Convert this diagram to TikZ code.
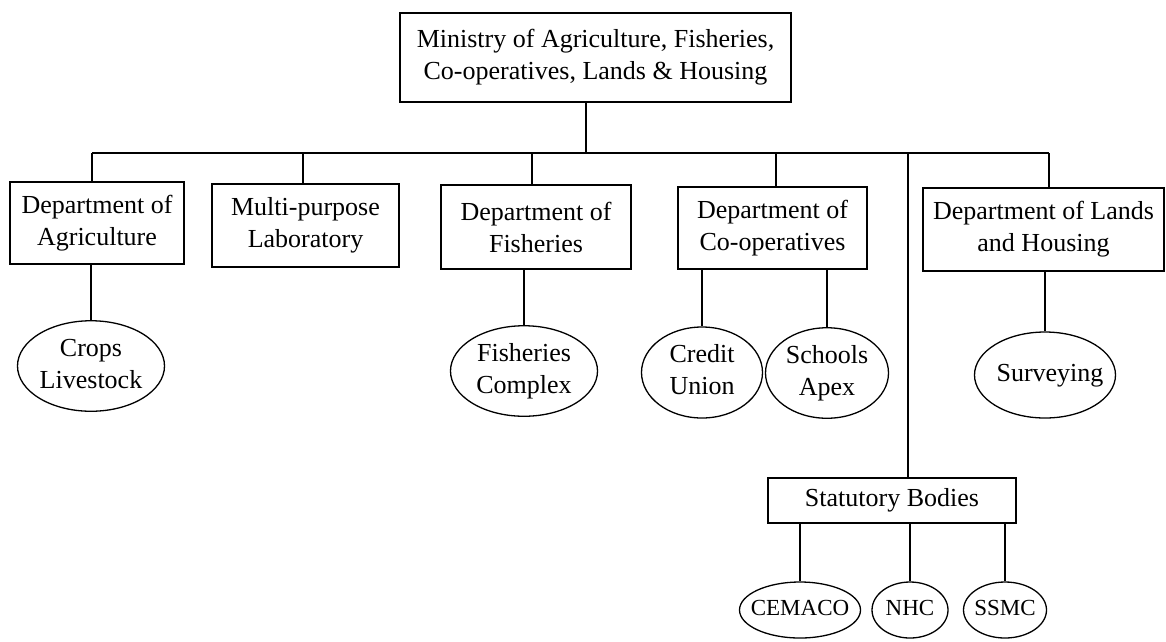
\documentclass[tikz,border=0pt]{standalone}
\usepackage{fontspec}
\setmainfont{Liberation Serif}
\usetikzlibrary{shapes.geometric}
\newcommand{\zw}[1]{\makebox[0pt]{\begin{tabular}{@{}c@{}}#1\end{tabular}}}
\tikzset{
  box/.style={draw, line width=1.3pt, rectangle, inner sep=2pt, align=center,
    font=\fontsize{26}{32}\selectfont},
  oval/.style={draw, line width=1.3pt, ellipse, inner sep=0pt,
    font=\fontsize{26}{32}\selectfont},
  smalloval/.style={oval, font=\fontsize{23}{28}\selectfont},
  link/.style={line width=1.3pt}
}
\begin{document}
\begin{tikzpicture}[x=1pt,y=-1pt]
\useasboundingbox (0,0) rectangle (1166,641);
% boxes
\node[box, minimum width=391, minimum height=89] (ministry) at (595.5,57.5)
  {Ministry of Agriculture, Fisheries,\\Co-operatives, Lands \& Housing};
\node[box, minimum width=174, minimum height=82] (agri) at (97,223) {Department of\\Agriculture};
\node[box, minimum width=187, minimum height=83] (lab) at (305.5,225.5) {Multi-purpose\\Laboratory};
\node[box, minimum width=190, minimum height=84] (fish) at (536,227) {Department of\\Fisheries};
\node[box, minimum width=189, minimum height=82] (coop) at (772.5,228) {Department of\\Co-operatives};
\node[box, minimum width=241, minimum height=83] (lands) at (1043.5,229.5) {Department of Lands\\and Housing};
\node[box, minimum width=248, minimum height=45] (stat) at (892,500.5) {Statutory Bodies};
% ovals
\node[oval, minimum width=147, minimum height=88] (crops) at (91,366) {\zw{Crops\\Livestock}};
\node[oval, minimum width=147, minimum height=88] (fcomplex) at (524,371) {\zw{Fisheries\\Complex}};
\node[oval, minimum width=121, minimum height=91] (credit) at (702,372.5) {\zw{Credit\\Union}};
\node[oval, minimum width=123, minimum height=90] (schools) at (827,373) {\zw{Schools\\Apex}};
\node[oval, minimum width=141, minimum height=86] (survey) at (1045,375) {\zw{\hspace{10pt}Surveying}};
\node[smalloval, minimum width=121, minimum height=56] (cemaco) at (800,610) {\zw{CEMACO}};
\node[smalloval, minimum width=76, minimum height=56] (nhc) at (910,610) {\zw{NHC}};
\node[smalloval, minimum width=83, minimum height=56] (ssmc) at (1005,610) {\zw{SSMC}};
% bus
\coordinate (j0) at (586,153);
\coordinate (jA) at (92,153);
\coordinate (jL) at (303,153);
\coordinate (jF) at (532,153);
\coordinate (jC) at (776,153);
\coordinate (jS) at (908,153);
\coordinate (jH) at (1049,153);
\draw[link] (ministry.south -| j0) -- (j0);
\draw[link] (jA) -- (jH);
\draw[link] (jA) -- (jA |- agri.north);
\draw[link] (jL) -- (jL |- lab.north);
\draw[link] (jF) -- (jF |- fish.north);
\draw[link] (jC) -- (jC |- coop.north);
\draw[link] (jH) -- (jH |- lands.north);
\draw[link] (jS) -- (jS |- stat.north);
% children
\draw[link] (crops.north |- agri.south) -- (crops.north);
\draw[link] (fcomplex.north |- fish.south) -- (fcomplex.north);
\draw[link] (credit.north |- coop.south) -- (credit.north);
\draw[link] (schools.north |- coop.south) -- (schools.north);
\draw[link] (survey.north |- lands.south) -- (survey.north);
\draw[link] (cemaco.north |- stat.south) -- (cemaco.north);
\draw[link] (nhc.north |- stat.south) -- (nhc.north);
\draw[link] (ssmc.north |- stat.south) -- (ssmc.north);
\end{tikzpicture}
\end{document}
